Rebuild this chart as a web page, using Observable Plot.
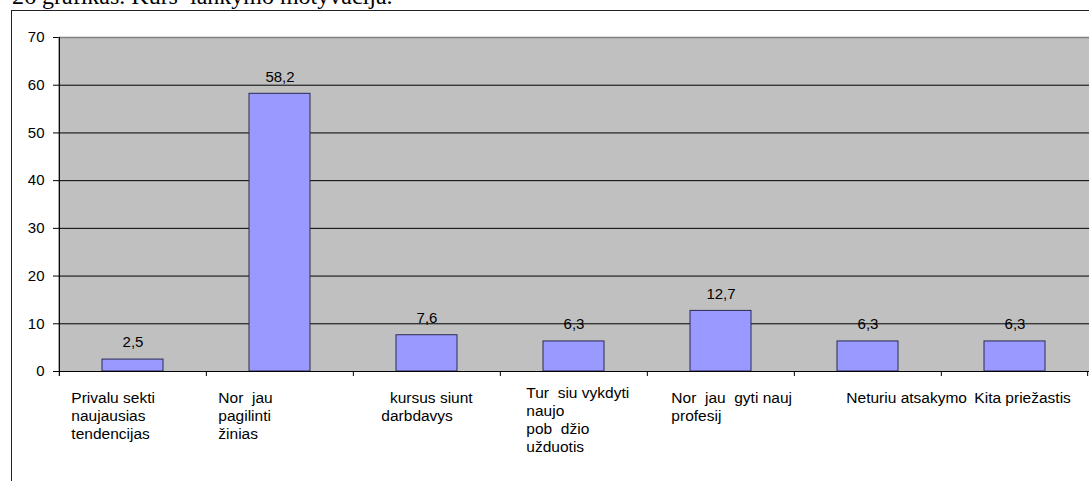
<!DOCTYPE html>
<html><head><meta charset="utf-8">
<script src="https://cdn.jsdelivr.net/npm/d3@7"></script>
<script src="https://cdn.jsdelivr.net/npm/@observablehq/plot@0.6"></script>
<style>
html,body{margin:0;padding:0;background:#fff;overflow:hidden;}
#wrap{position:relative;width:1089px;height:481px;overflow:hidden;}
#title{position:absolute;left:12px;top:-16px;font-family:"Liberation Serif","Times New Roman",serif;font-size:24px;line-height:24px;white-space:pre;color:#000;}
#box{position:absolute;left:11px;top:10px;width:1200px;height:600px;border-left:1.5px solid #222;border-top:1.5px solid #222;pointer-events:none;}
#chart{position:absolute;left:0;top:0;}
svg text{white-space:pre;}
</style></head>
<body><div id="wrap"><div id="chart"></div><div id="box"></div><div id="title"></div></div>
<script>
const titleText = "26 grafikas. Kurs  lankymo motyvacija.";
const categories = [
  "Privalu sekti\nnaujausias\ntendencijas",
  "Nor  jau\npagilinti\nžinias",
  "  kursus siunt\ndarbdavys",
  "Tur  siu vykdyti\nnaujo\npob  džio\nužduotis",
  "Nor  jau  gyti nauj\nprofesij",
  "Neturiu atsakymo",
  "Kita priežastis"
];
const values = [2.5, 58.2, 7.6, 6.3, 12.7, 6.3, 6.3];
const yTicks = [0, 10, 20, 30, 40, 50, 60, 70];

document.getElementById("title").textContent = titleText;

const W = 1089, H = 481, mL = 58, mR = 0, mT = 37, mB = 110;
const n = categories.length;
const step = (W - mL - mR) / n;
// label layout tweaks (offset from slot start, vertical shift)
const labelDx = [12, 12, 28, 26, 24, 52, 33];
const labelDy = [0, 0, 0, -5, 0, 0, 0];
const data = categories.map((c, i) => ({c, v: values[i]}));
const fmt = v => v.toFixed(1).replace(".", ",");
const font = '"Liberation Sans", Arial, sans-serif';

const chart = Plot.plot({
  width: W, height: H,
  marginLeft: mL, marginRight: mR, marginTop: mT, marginBottom: mB,
  style: {fontFamily: font, fontSize: "15px", color: "#000", background: "transparent", overflow: "visible"},
  x: {domain: categories, paddingInner: 0.585, paddingOuter: 0.2925, axis: null},
  y: {domain: [yTicks[0], yTicks[yTicks.length - 1]], axis: null, label: null},
  marks: [
    Plot.frame({fill: "#c0c0c0", stroke: null}),
    Plot.ruleY(yTicks.slice(1, -1), {stroke: "#000", strokeWidth: 1}),
    Plot.ruleY([yTicks[yTicks.length - 1]], {stroke: "#808080", strokeWidth: 1.5}),
    Plot.barY(data, {x: "c", y: "v", fill: "#9999ff", stroke: "#2a2a50", strokeWidth: 1}),
    Plot.text(data, {x: "c", y: "v", text: d => fmt(d.v), dy: -17, fontSize: 15, fill: "#000"}),
    Plot.axisY({ticks: yTicks, tickSize: 5, tickPadding: 9, tickFormat: d => String(d), fontSize: 15, stroke: "#000", label: null}),
    Plot.ruleY([0], {stroke: "#000", strokeWidth: 1.2}),
    Plot.ruleX([categories[0]], {x: d => d, y1: yTicks[yTicks.length - 1], y2: 0, insetBottom: -5, dx: -step / 2, stroke: "#000", strokeWidth: 1.2}),
    Plot.ruleX(categories.slice(1), {x: d => d, y1: 0, y2: 0, insetBottom: -5, dx: -step / 2, stroke: "#000"}),
    Plot.ruleX(categories.slice(-1), {x: d => d, y1: 0, y2: 0, insetBottom: -5, dx: step / 2 - 1, stroke: "#000"}),
    ...categories.map((c, i) => Plot.text([c], {
      x: d => d, frameAnchor: "bottom", text: d => d,
      textAnchor: "start", lineAnchor: "top", lineHeight: 1.18,
      dx: labelDx[i] - step / 2, dy: 18 + labelDy[i], fontSize: 15.5, fill: "#000"
    }))
  ]
});
document.getElementById("chart").appendChild(chart);
</script>
</body></html>
